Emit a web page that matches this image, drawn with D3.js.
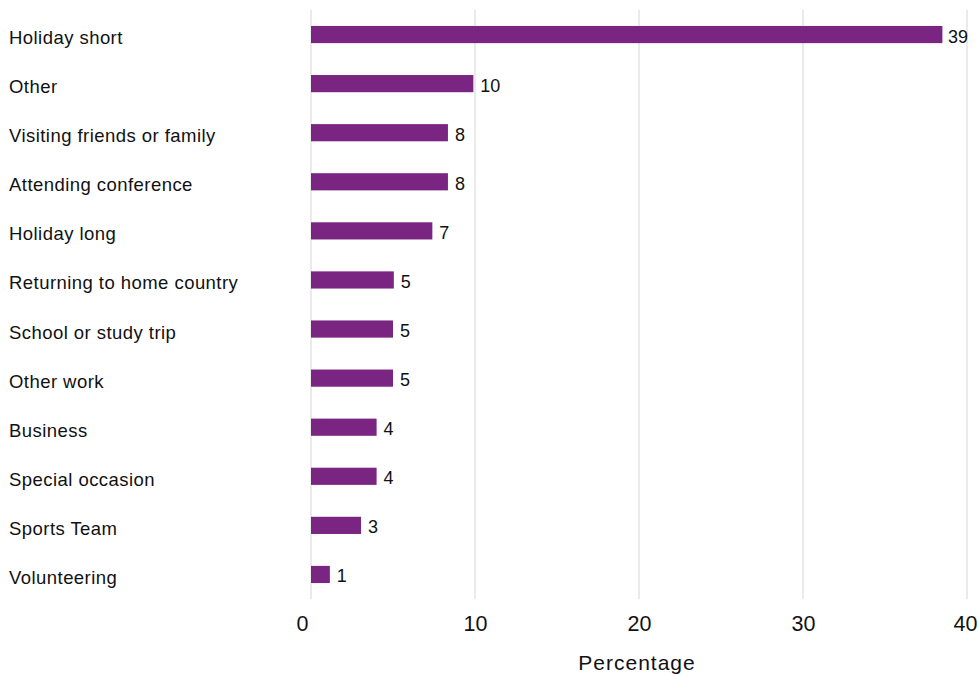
<!DOCTYPE html>
<html><head><meta charset="utf-8">
<script src="https://cdn.jsdelivr.net/npm/d3@7"></script>
<style>body{margin:0;background:#fff}svg{display:block}text{font-family:"Liberation Sans",Arial,Helvetica,sans-serif}</style>
</head><body><svg id="c" width="980" height="677"></svg>
<script>
const categories = ["Holiday short","Other","Visiting friends or family","Attending conference","Holiday long","Returning to home country","School or study trip","Other work","Business","Special occasion","Sports Team","Volunteering"];
const values = [38.5,9.9,8.35,8.35,7.4,5.05,5.0,5.0,4.0,4.0,3.05,1.15];
const valueLabels = ["39","10","8","8","7","5","5","5","4","4","3","1"];
const ticks = [0,10,20,30,40];
const axisTitle = "Percentage";

const svg = d3.select("#c");
const x = d3.scaleLinear().domain([0,40]).range([311,967]);
const y = d3.scaleBand().domain(categories).range([10,599]).paddingInner(0.65).paddingOuter(0.325);

// gridlines
svg.append("g").selectAll("line").data(ticks).join("line")
  .attr("x1",d=>x(d)).attr("x2",d=>x(d)).attr("y1",10).attr("y2",599)
  .attr("stroke","#d6d6d6").attr("stroke-width",1);

// bars
svg.append("g").selectAll("rect").data(values).join("rect")
  .attr("x",x(0)).attr("y",(d,i)=>y(categories[i]))
  .attr("width",d=>x(d)-x(0)).attr("height",y.bandwidth())
  .attr("fill","#7a2581");

// value labels
const vl = svg.append("g").selectAll("text").data(values).join("text")
  .attr("x",d=>x(d)+7).attr("y",(d,i)=>y(categories[i])+y.bandwidth()/2+8)
  .attr("font-size",18).attr("fill","#111")
  .text((d,i)=>valueLabels[i]);
vl.each(function(){
  const t=d3.select(this); const w=this.getComputedTextLength(); const xs=+t.attr("x");
  if (xs+w>968) t.attr("x",968-w);
});

// category labels
svg.append("g").selectAll("text").data(categories).join("text")
  .attr("x",9).attr("y",d=>y(d)+y.bandwidth()/2+9.5)
  .attr("font-size",18.5).attr("letter-spacing",0.45).attr("fill","#111")
  .text(d=>d);

// x axis
const xAxis = d3.axisBottom(x).tickValues(ticks).tickSize(0).tickPadding(0);
const gx = svg.append("g").attr("transform","translate(0,631)").call(xAxis);
gx.select(".domain").remove();
gx.selectAll("text").attr("font-size",21.5).attr("fill","#111").attr("y",0).attr("dy",0)
  .attr("dx",d=>d===0?-9:(d===40?-2:0))
  .style("font-family","'Liberation Sans',Arial,sans-serif");

svg.append("text").attr("x",637).attr("y",670).attr("text-anchor","middle")
  .attr("font-size",21).attr("letter-spacing",1).attr("fill","#111").text(axisTitle);
</script></body></html>
